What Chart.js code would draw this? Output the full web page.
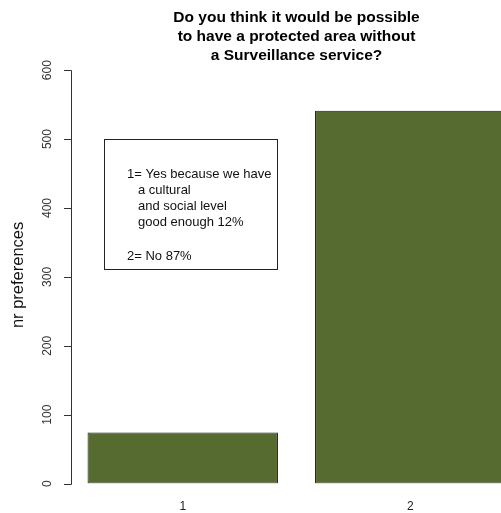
<!DOCTYPE html>
<html>
<head>
<meta charset="utf-8">
<script src="https://cdn.jsdelivr.net/npm/chart.js"></script>
<style>
  html, body { margin: 0; padding: 0; background: #fff; overflow: hidden; }
  #wrap { width: 524px; height: 530px; position: relative; }
</style>
</head>
<body>
<div id="wrap"><canvas id="chart"></canvas></div>
<script>
const categories = ["1", "2"];
const preferences = [74, 541];
const yTicks = [0, 100, 200, 300, 400, 500, 600];
const titleLines = ["Do you think it would be possible", "to have a protected area without", "a Surveillance service?"];
const legendLines = ["1= Yes because we have", "  a cultural", "  and social level", "  good enough 12%", "", "2= No 87%"];

const FONT = "'Liberation Sans', Arial, Helvetica, sans-serif";

// R-style y axis, axis title and the text box
const rDecor = {
  id: "rDecor",
  afterDraw(chart) {
    const ctx = chart.ctx;
    const y = chart.scales.y;
    const x0 = chart.chartArea.left + 2;
    ctx.save();
    ctx.strokeStyle = "#333";
    ctx.lineWidth = 1;
    ctx.beginPath();
    ctx.moveTo(x0 + 0.5, Math.round(y.getPixelForValue(yTicks[0])) + 0.5);
    ctx.lineTo(x0 + 0.5, Math.round(y.getPixelForValue(yTicks[yTicks.length - 1])) + 0.5);
    yTicks.forEach(t => {
      const py = Math.round(y.getPixelForValue(t)) + 0.5;
      ctx.moveTo(x0 + 0.5, py);
      ctx.lineTo(x0 - 7, py);
    });
    ctx.stroke();

    ctx.fillStyle = "#333";
    ctx.font = "12px " + FONT;
    ctx.textAlign = "center";
    ctx.textBaseline = "middle";
    yTicks.forEach(t => {
      ctx.save();
      ctx.translate(x0 - 23, y.getPixelForValue(t));
      ctx.rotate(-Math.PI / 2);
      ctx.fillText(String(t), 0, 0);
      ctx.restore();
    });

    ctx.save();
    ctx.fillStyle = "#111";
    ctx.font = "16.5px " + FONT;
    ctx.translate(18, (y.getPixelForValue(0) + y.getPixelForValue(600)) / 2 - 2);
    ctx.rotate(-Math.PI / 2);
    ctx.fillText("nr preferences", 0, 0);
    ctx.restore();

    // text box
    const bx = 104, by = Math.round(y.getPixelForValue(500)), bw = 173, bh = 130;
    ctx.strokeStyle = "#222";
    ctx.strokeRect(bx + 0.5, by + 0.5, bw, bh);
    ctx.fillStyle = "#111";
    ctx.font = "13px " + FONT;
    ctx.textAlign = "left";
    let ly = by + 35;
    legendLines.forEach(line => {
      const indent = line.startsWith("  ") ? 11 : 0;
      ctx.fillText(line.trim(), bx + 23 + indent, ly);
      ly += line === "" ? 18 : 16;
    });
    ctx.restore();
  }
};

new Chart(document.getElementById("chart"), {
  type: "bar",
  data: {
    labels: categories,
    datasets: [{
      data: preferences,
      backgroundColor: "#566b30",
      borderColor: "#1a1a1a",
      borderWidth: 1,
      borderSkipped: false,
      barPercentage: 0.837,
      categoryPercentage: 1
    }]
  },
  options: {
    responsive: true,
    maintainAspectRatio: false,
    animation: false,
    layout: { padding: { left: 69, right: 0, top: 0, bottom: 0 } },
    plugins: {
      legend: { display: false },
      tooltip: { enabled: false },
      title: {
        display: true,
        fullSize: false,
        text: titleLines,
        color: "#000",
        font: { family: FONT, size: 15.5, weight: "bold", lineHeight: 1.23 },
        padding: { top: 8, bottom: 5 }
      }
    },
    scales: {
      x: {
        grid: { display: false, drawTicks: false },
        border: { display: false },
        ticks: { color: "#222", font: { family: FONT, size: 12 }, padding: 16 }
      },
      y: {
        display: false,
        min: 0,
        max: 600
      }
    }
  },
  plugins: [rDecor]
});
</script>
</body>
</html>
